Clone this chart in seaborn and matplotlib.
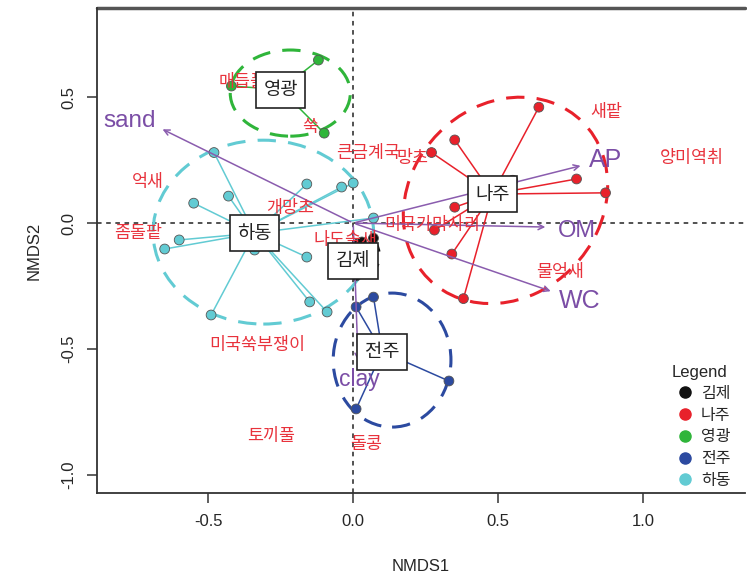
import numpy as np
import pandas as pd
import matplotlib
matplotlib.use("Agg")
import matplotlib.pyplot as plt
import seaborn as sns
from matplotlib.patches import Ellipse
from matplotlib.lines import Line2D

# ---------------- data ----------------
sites = ["김제", "나주", "영광", "전주", "하동"]
site_colors = ["#111111", "#e8212b", "#2fb53a", "#2c4aa0", "#62cbd3"]

# site centroids (label boxes)
cent_x = [0.00, 0.48, -0.25, 0.10, -0.34]
cent_y = [-0.15, 0.115, 0.53, -0.51, -0.04]

# sample points (NMDS scores)
pt_site = (["김제"] * 3
           + ["나주"] * 10
           + ["영광"] * 3
           + ["전주"] * 4
           + ["하동"] * 14)
pt_x = [0.07, 0.03, 0.01,
        0.64, 0.35, 0.27, 0.55, 0.77, 0.87, 0.35, 0.28, 0.34, 0.38,
        -0.12, -0.42, -0.10,
        0.07, 0.01, 0.33, 0.01,
        -0.48, -0.16, -0.04, 0.00, -0.55, -0.43, 0.07, -0.60, -0.65, -0.34,
        -0.16, -0.49, -0.15, -0.09]
pt_y = [-0.06, -0.075, -0.21,
        0.46, 0.33, 0.28, 0.17, 0.175, 0.12, 0.063, -0.028, -0.123, -0.30,
        0.647, 0.544, 0.357,
        -0.294, -0.333, -0.627, -0.738,
        0.28, 0.155, 0.143, 0.159, 0.079, 0.107, 0.02, -0.067, -0.103, -0.107,
        -0.135, -0.365, -0.313, -0.353]

# dispersion ellipses: centre, full width, full height, angle
ell_x = [0.04, 0.525, -0.217, 0.134, -0.31]
ell_y = [-0.13, 0.09, 0.516, -0.544, -0.036]
ell_w = [0.10, 0.84, 0.414, 0.406, 0.76]
ell_h = [0.15, 0.68, 0.342, 0.532, 0.73]
ell_a = [0, 68, 0, 0, 0]

# environmental vectors
env_names = ["sand", "AP", "OM", "WC", "clay"]
env_x = [-0.666, 0.793, 0.672, 0.69, 0.017]
env_y = [0.377, 0.23, -0.016, -0.274, -0.556]
env_lab_x = [-0.77, 0.87, 0.77, 0.78, 0.02]
env_lab_y = [0.405, 0.25, -0.03, -0.31, -0.62]
env_size = [17.5, 18, 17, 18, 16.5]

# species labels
sp_names = ["매듭풀", "쑥", "큰금계국", "망초", "새팥", "양미역취", "억새", "개망초",
            "좀돌팥", "미국가막사리", "나도솔새", "물억새", "미국쑥부쟁이", "토끼풀", "돌콩"]
sp_x = [-0.38, -0.148, 0.05, 0.205, 0.872, 1.169, -0.707, -0.217,
        -0.741, 0.272, -0.028, 0.714, -0.331, -0.283, 0.045]
sp_y = [0.56, 0.381, 0.278, 0.258, 0.44, 0.258, 0.163, 0.06,
        -0.04, -0.008, -0.067, -0.194, -0.484, -0.845, -0.877]

# ---------------- plot ----------------
sns.set_theme(style="white")
plt.rcParams["font.family"] = ["Liberation Sans", "Noto Sans CJK KR", "DejaVu Sans"]
plt.rcParams["axes.unicode_minus"] = False
KR = ["Noto Sans CJK KR", "DejaVu Sans"]

fig = plt.figure(figsize=(7.47, 5.86), dpi=100)
ax = fig.add_axes([0.130, 0.159, 0.867, 0.827])
ax.set_xlim(-0.883, 1.35)
ax.set_ylim(-1.071, 0.853)

palette = dict(zip(sites, site_colors))
df = pd.DataFrame({"site": pt_site, "x": pt_x, "y": pt_y})
cent = pd.DataFrame({"site": sites, "cx": cent_x, "cy": cent_y})
df = df.merge(cent, on="site")

ax.axhline(0, color="#222222", ls=(0, (3, 3)), lw=1.1, zorder=1)
ax.axvline(0, color="#222222", ls=(0, (3, 3)), lw=1.1, zorder=1)

# spider lines
for _, r in df.iterrows():
    ax.plot([r.x, r.cx], [r.y, r.cy], color=palette[r.site], lw=1.1, zorder=2)

# ellipses
for s, ex, ey, ew, eh, ea in zip(sites, ell_x, ell_y, ell_w, ell_h, ell_a):
    ax.add_patch(Ellipse((ex, ey), ew, eh, angle=ea, fill=False,
                         ec=palette[s], lw=2.2, ls=(0, (6, 4)), zorder=3))

# points
sns.scatterplot(data=df, x="x", y="y", hue="site", palette=palette,
                hue_order=sites, s=50, edgecolor="#555555", linewidth=0.6,
                ax=ax, legend=False, zorder=4)

# env vectors
for n, vx, vy, lx, ly, fs in zip(env_names, env_x, env_y, env_lab_x, env_lab_y, env_size):
    ax.annotate("", xy=(vx, vy), xytext=(0, 0),
                arrowprops=dict(arrowstyle="->", color="#8a5cae", lw=1.1,
                                mutation_scale=10), zorder=5)
    ax.text(lx, ly, n, color="#7b4ea6", fontsize=fs, ha="center", va="center", zorder=6)

# species labels
for n, x, y in zip(sp_names, sp_x, sp_y):
    ax.text(x, y, n, color="#e8323c", fontsize=12.5, ha="center", va="center",
            family=KR, zorder=6)

# site label boxes
for s, x, y in zip(sites, cent_x, cent_y):
    ax.text(x, y, s, fontsize=13.5, ha="center", va="center", color="#222222",
            family=KR, zorder=7,
            bbox=dict(boxstyle="square,pad=0.4", fc="white", ec="#222222", lw=1.2))

# legend
handles = [Line2D([], [], marker="o", ls="", color=c, markersize=8) for c in site_colors]
leg = ax.legend(handles, sites, title="Legend", loc="lower right",
                bbox_to_anchor=(0.995, -0.015), frameon=False,
                handletextpad=0.0, labelspacing=0.3, borderaxespad=0.3,
                prop={"family": KR, "size": 11.5})
leg.get_title().set_fontsize(12)

ax.set_xticks([-0.5, 0.0, 0.5, 1.0])
ax.set_xticklabels(["-0.5", "0.0", "0.5", "1.0"])
ax.set_yticks([-1.0, -0.5, 0.0, 0.5])
ax.set_yticklabels(["-1.0", "-0.5", "0.0", "0.5"], rotation=90, va="center")
ax.tick_params(axis="both", direction="out", length=7, width=1.1, color="#333333",
               labelsize=12, pad=8, bottom=True, left=True)
ax.set_xlabel("NMDS1", fontsize=12, labelpad=22)
ax.set_ylabel("NMDS2", fontsize=12, labelpad=14)
for sp in ["top", "right"]:
    ax.spines[sp].set_visible(False)
for sp in ["left", "bottom"]:
    ax.spines[sp].set_color("#333333")
    ax.spines[sp].set_linewidth(1.3)
ax.plot([0, 1], [1, 1], transform=ax.transAxes, color="#555555", lw=2.5, clip_on=False)

fig.savefig("out.png", dpi=100)
